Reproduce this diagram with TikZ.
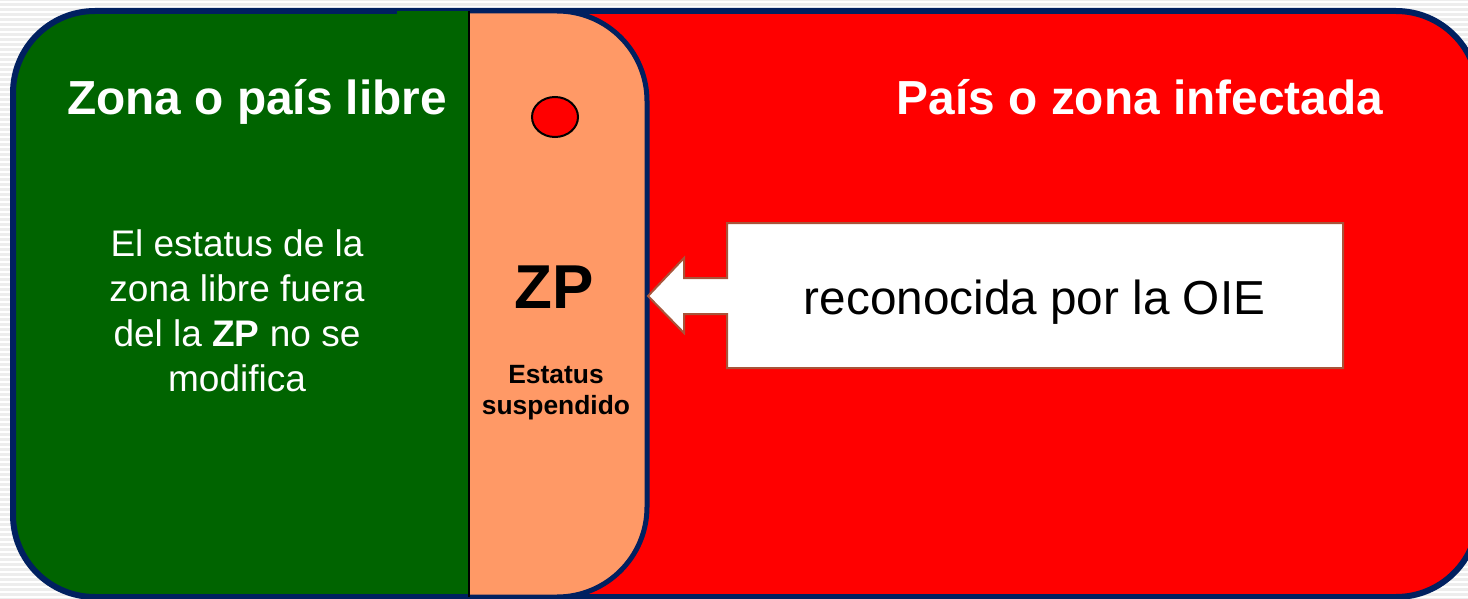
\documentclass[tikz,border=0pt]{standalone}
\usepackage{fontspec}
\setmainfont{Liberation Sans}
\usetikzlibrary{shapes.geometric}
\definecolor{bgray}{RGB}{237,237,237}
\definecolor{navy}{RGB}{0,32,96}
\definecolor{zgreen}{RGB}{0,100,0}
\definecolor{zred}{RGB}{255,0,0}
\definecolor{zorange}{RGB}{255,153,102}
\definecolor{cborder}{RGB}{168,84,58}
\begin{document}
\begin{tikzpicture}[x=1pt,y=-1pt,
  titletext/.style={text=white, font=\fontsize{47.8}{56}\selectfont\bfseries, inner sep=0pt, anchor=base},
  paratext/.style={text=white, font=\fontsize{37}{45}\selectfont, align=center, inner sep=0pt},
  zptext/.style={text=black, font=\fontsize{62}{70}\selectfont\bfseries, inner sep=0pt, anchor=base},
  smalltext/.style={text=black, font=\fontsize{26.4}{31}\selectfont\bfseries, align=center, inner sep=0pt},
  calltext/.style={text=black, font=\fontsize{47.7}{56}\selectfont, inner sep=0pt, anchor=base},
  outerborder/.style={draw=navy, line width=6pt},
  callshape/.style={fill=white, draw=cborder, line width=2pt, line join=miter}
]
\useasboundingbox (0,0) rectangle (1468,599);
% background
\fill[bgray] (0,0) rectangle (1468,599);
\foreach \yy in {2,7,...,597} \draw[white, line width=1.5pt] (0,\yy) -- (1468,\yy);
% outer shape
\fill[zred, rounded corners=82pt] (13,11) rectangle (1478,597);
\begin{scope}
  \clip[rounded corners=82pt] (13,11) rectangle (1478,597);
  \fill[zgreen] (0,0) rectangle (469,600);
\end{scope}
\draw[outerborder, rounded corners=82pt] (13,11) rectangle (1478,597);
\fill[zgreen] (397,11.5) rectangle (469,16);
% orange zone
\fill[zorange] (469,11) -- (557,11) arc (270:360:90) -- (647,507) arc (0:90:90) -- (469,597) -- cycle;
\draw[navy, line width=5pt] (469,11) -- (557,11) arc (270:360:90) -- (647,507) arc (0:90:90) -- (469,597);
\draw[black, line width=2.5pt] (469,11) -- (469,597);
% red dot
\node[draw=black, line width=2pt, fill=zred, ellipse, minimum width=46pt, minimum height=40pt, inner sep=0pt] (dot) at (555,117) {};
% callout
\path[callshape] (727,223) -- (1343,223) -- (1343,368) -- (727,368) -- (727,314) -- (684,314) -- (684,333) -- (648,296) -- (684,258) -- (684,278) -- (727,278) -- cycle;
% texts
\node[titletext] (ztitle) at (257,115) {Zona o país libre};
\node[titletext] (ititle) at (1140,115) {País o zona infectada};
\node[paratext] (ptext) at (237,311) {El estatus de la\\zona libre fuera\\del la \textbf{ZP} no se\\modifica};
\node[zptext] (zp) at (554,308) {ZP};
\node[smalltext] (est) at (556,393) {Estatus\\suspendido};
\node[calltext] (rec) at (1034.5,314) {reconocida por la OIE};
\end{tikzpicture}
\end{document}
